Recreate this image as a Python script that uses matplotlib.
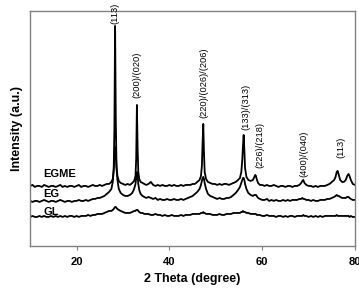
import numpy as np
import matplotlib
matplotlib.use("Agg")
import matplotlib.pyplot as plt

plt.rcParams['font.family'] = ['Liberation Sans', 'DejaVu Sans']

# 2 theta grid (degree), denser around the peaks
two_theta = [
    10.0, 10.5, 11.0, 11.5, 12.0, 12.5, 13.0, 13.5, 14.0, 14.5,
    15.0, 15.5, 16.0, 16.5, 17.0, 17.5, 18.0, 18.5, 19.0, 19.5,
    20.0, 20.5, 21.0, 21.5, 22.0, 22.5, 23.0, 23.5, 24.0, 24.5,
    25.0, 25.5, 26.0, 26.5, 27.0,
    27.5, 27.8, 28.0, 28.15, 28.3, 28.45, 28.6, 28.8, 29.1, 29.5,
    30.0, 30.5, 31.0, 31.5, 32.0, 32.4,
    32.7, 32.85, 33.0, 33.15, 33.3, 33.5, 33.8,
    34.2, 34.6, 35.0, 35.5, 36.0, 36.5, 37.0, 37.5, 38.0, 38.5,
    39.0, 39.5, 40.0, 40.5, 41.0, 41.5, 42.0, 42.5, 43.0, 43.5,
    44.0, 44.5, 45.0, 45.5, 46.0,
    46.5, 46.8, 47.0, 47.15, 47.3, 47.45, 47.6, 47.9, 48.3,
    48.8, 49.3, 49.8, 50.3, 50.8, 51.3, 51.8, 52.3, 52.8, 53.3, 53.8, 54.3, 54.8,
    55.2, 55.5, 55.7, 55.85, 56.0, 56.15, 56.3, 56.6, 57.0, 57.5,
    58.0, 58.3, 58.5, 58.65, 58.8, 59.1, 59.5,
    60.0, 60.5, 61.0, 61.5, 62.0, 62.5, 63.0, 63.5, 64.0, 64.5,
    65.0, 65.5, 66.0, 66.5, 67.0, 67.5, 68.0,
    68.4, 68.65, 68.85, 69.1, 69.5,
    70.0, 70.5, 71.0, 71.5, 72.0, 72.5, 73.0, 73.5, 74.0, 74.5, 75.0,
    75.5, 75.8, 76.05, 76.25, 76.5, 76.8, 77.2, 77.6, 78.0, 78.3, 78.6, 78.8, 79.1, 79.5, 80.0,
]

egme = [
    2, 3, 1, 2, 2, 1, 3, 2, 1, 2,
    2, 1, 2, 3, 1, 2, 1, 2, 2, 1,
    2, 3, 1, 2, 2, 1, 2, 3, 2, 2,
    3, 2, 3, 4, 4,
    6, 9, 18, 60, 162, 70, 22, 12, 7, 5,
    4, 3, 4, 3, 5, 7,
    12, 30, 83, 40, 16, 9, 6,
    5, 4, 3, 4, 6, 3, 2, 3, 2, 3,
    2, 2, 3, 2, 3, 2, 2, 3, 2, 3,
    3, 3, 4, 4, 6,
    8, 12, 22, 45, 64, 35, 16, 9, 6,
    5, 4, 4, 3, 4, 3, 4, 4, 3, 4, 5, 6, 8,
    10, 16, 28, 42, 53, 38, 20, 11, 8, 7,
    8, 11, 13, 12, 9, 5, 3,
    3, 2, 3, 2, 2, 3, 2, 1, 2, 2,
    1, 2, 2, 1, 2, 2, 3,
    5, 7, 8, 5, 3,
    2, 2, 1, 2, 1, 2, 2, 2, 3, 4, 6,
    8, 11, 16, 17, 13, 8, 6, 6, 8, 12, 14, 12, 8, 4, 3,
]

eg = [
    1, 0, 1, 1, 0, 1, 2, 1, 0, 1,
    1, 0, 1, 2, 1, 0, 1, 1, 0, 1,
    1, 2, 1, 1, 2, 1, 2, 3, 3, 4,
    4, 5, 6, 8, 10,
    13, 20, 32, 45, 55, 50, 35, 22, 13, 9,
    7, 6, 6, 7, 9, 13,
    18, 24, 30, 26, 18, 12, 8,
    6, 5, 4, 5, 4, 3, 4, 2, 3, 2,
    2, 3, 2, 2, 3, 2, 2, 3, 2, 3,
    4, 5, 6, 8, 10,
    13, 17, 21, 24, 25, 23, 19, 13, 8,
    6, 5, 4, 3, 4, 3, 3, 4, 4, 5, 7, 9, 12,
    15, 19, 22, 24, 24, 22, 18, 13, 9, 7,
    6, 7, 7, 7, 6, 4, 3,
    2, 2, 3, 1, 2, 1, 2, 1, 1, 2,
    1, 2, 1, 2, 2, 2, 3,
    3, 4, 3, 3, 2,
    2, 1, 2, 1, 1, 2, 2, 2, 3, 3, 4,
    5, 6, 7, 6, 6, 5, 4, 4, 4, 5, 5, 4, 3, 2, 2,
]

gl = [
    0, 1, 0, 0, 1, 0, 1, 0, 0, 1,
    0, 1, 0, 1, 0, 1, 0, 1, 1, 0,
    1, 0, 1, 1, 1, 2, 1, 2, 2, 3,
    3, 3, 4, 5, 6,
    6, 7, 8, 9, 10, 10, 9, 8, 7, 6,
    5, 4, 4, 4, 5, 6,
    6, 7, 7, 7, 6, 5, 4,
    4, 3, 3, 3, 2, 2, 3, 2, 2, 1,
    2, 1, 1, 2, 1, 1, 1, 2, 1, 2,
    2, 2, 3, 3, 3,
    3, 4, 4, 4, 5, 4, 4, 3, 3,
    3, 2, 2, 2, 3, 2, 2, 3, 3, 3, 4, 4, 4,
    4, 5, 5, 6, 5, 5, 5, 4, 4, 3,
    3, 3, 3, 3, 2, 2, 2,
    1, 1, 2, 1, 1, 1, 0, 1, 1, 0,
    1, 0, 1, 1, 0, 1, 1,
    1, 1, 2, 1, 1,
    0, 1, 0, 1, 0, 1, 0, 1, 1, 1, 1,
    1, 1, 2, 1, 1, 1, 1, 1, 1, 1, 1, 0, 1, 0, 0,
]

series_names = ['EGME', 'EG', 'GL']
offsets = [58, 44, 29]
name_y = [67, 47, 29]

peak_labels = ['(113)', '(200)/(020)', '(220)/(026)/(206)', '(133)/(313)',
               '(226)/(218)', '(400)/(040)', '(113)']
peak_label_x = [28.3, 33.0, 47.4, 56.4, 59.4, 68.9, 76.9]
peak_label_y = [222, 148, 128, 116, 78, 69, 88]

fig = plt.figure(figsize=(3.59, 2.88), dpi=100)
ax = fig.add_axes([0.084, 0.146, 0.905, 0.816])

x = np.array(two_theta)
for y, off in zip([egme, eg, gl], offsets):
    ax.plot(x, np.array(y) + off, color='black', lw=1.3)

for name, ny in zip(series_names, name_y):
    ax.text(12.9, ny, name, fontsize=8, fontweight='bold',
            ha='left', va='bottom')

for lab, px, py in zip(peak_labels, peak_label_x, peak_label_y):
    ax.text(px, py, lab, rotation=90, ha='center', va='bottom',
            fontsize=6.7, clip_on=False)

ax.set_xlim(10, 80)
ax.set_ylim(0, 235)
ax.set_yticks([])
ax.set_xticks([20, 40, 60, 80])
ax.tick_params(axis='x', direction='out', length=3, color='#808080',
               labelsize=8, pad=5)
for t in ax.get_xticklabels():
    t.set_fontweight('bold')
for s in ax.spines.values():
    s.set_color('#808080')
    s.set_linewidth(1.0)

ax.set_xlabel('2 Theta (degree)', fontsize=9, fontweight='bold', labelpad=4)
ax.set_ylabel('Intensity (a.u.)', fontsize=9, fontweight='bold', labelpad=5)

fig.savefig('out.png', dpi=100)
